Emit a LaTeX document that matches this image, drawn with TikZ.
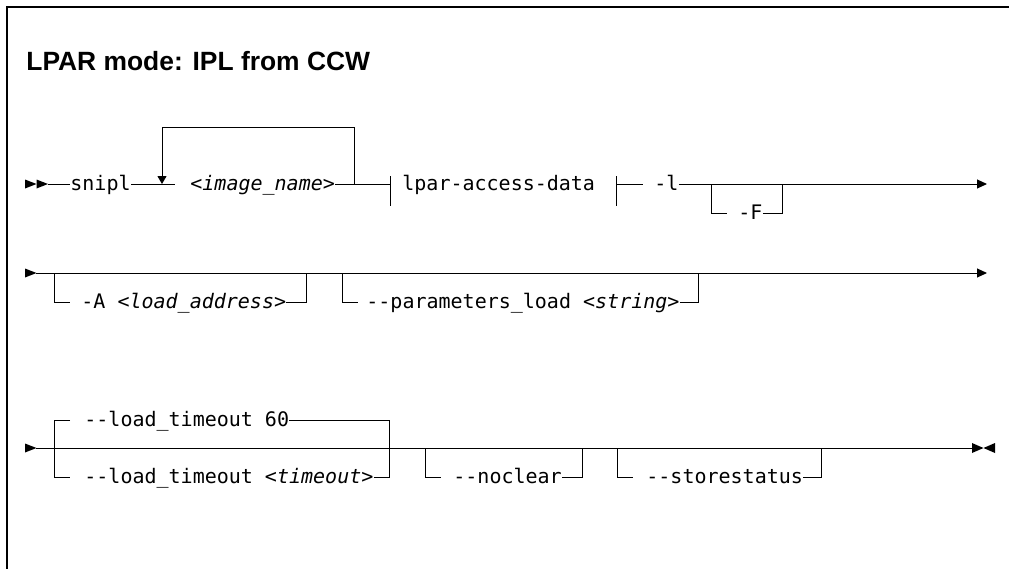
\documentclass[tikz,border=0pt]{standalone}
\usepackage{fontspec}
\setmainfont{Liberation Sans}
\setmonofont{DejaVu Sans Mono}
\usetikzlibrary{calc,arrows.meta}

\tikzset{
  rail/.style={line width=0.5pt},
  frame/.style={line width=0.8pt},
  opt/.style={font=\ttfamily\fontsize{10}{12}\selectfont, inner sep=0pt,
    text height=8pt, text depth=2pt, anchor=west},
  tip/.style={-{Triangle[length=5pt,width=4.5pt]}},
  down/.style={-{Triangle[length=4pt,width=4.5pt]}},
}

\begin{document}
\begin{tikzpicture}[x=0.5pt,y=-0.5pt]
        \pgfmathsetmacro{\ya}{184}
        \pgfmathsetmacro{\yb}{273}
        \pgfmathsetmacro{\yc}{448}
        \pgfmathsetmacro{\dd}{29}
        \pgfmathsetmacro{\hk}{16}
        \useasboundingbox (0,0) rectangle (1009,569);
        \draw[frame] (1009,7) -- (7,7) -- (7,569);
        \node[font=\bfseries\fontsize{13.2}{16}\selectfont, inner sep=0pt, anchor=base west]
          (title) at (26,70) {LPAR mode: IPL from CCW};
        % first row
        \fill (25,\ya-4.5) -- ++(11.5,4.5) -- ++(-11.5,4.5) -- cycle;
        \fill (36.5,\ya-4.5) -- ++(11.5,4.5) -- ++(-11.5,4.5) -- cycle;
        \coordinate (a0) at (48,\ya);
        \coordinate (a1) at (175,\ya);
        \coordinate (lp) at (162,\ya);
        \coordinate (rp) at (354,\ya);
        \coordinate (a2) at (390,\ya);
        \coordinate (a3) at (616,\ya);
        \coordinate (a4) at (643,\ya);
        \coordinate (a5) at (987,\ya);
        \coordinate (f0) at (711,\ya);
        \coordinate (f1) at (782,\ya);
        \node[opt] (snipl) at (70,\ya) {snipl};
        \node[opt] (img) at (190,\ya) {<\textit{image\_name}>};
        \node[opt] (lpar) at (402,\ya) {lpar-access-data};
        \node[opt] (dl) at (654,\ya) {-l};
        \node[opt] (dF) at (738,\ya+\dd) {-F};
        \draw[rail] (a0) -- (snipl.west);
        \draw[rail] (snipl.east) -- (a1);
        \draw[rail] (img.east) -- (a2);
        \draw[rail, down] (rp) -- ++(0,-57) -| (lp);
        \draw[rail] ($ (a2) + (0,-8) $) -- ++(0,30);
        \draw[rail] ($ (a3) + (0,-8) $) -- ++(0,30);
        \draw[rail] (a3) -- (a4);
        \draw[rail, tip] (dl.east) -- (a5);
        \draw[rail] (f0) |- ++(\hk,\dd);
        \draw[rail] (dF.east) -| (f1);
        % second row
        \fill (25,\yb-4.5) -- ++(11.5,4.5) -- ++(-11.5,4.5) -- cycle;
        \coordinate (b0) at (36,\yb);
        \coordinate (b1) at (987,\yb);
        \coordinate (ad0) at (54,\yb);
        \coordinate (ad1) at (306,\yb);
        \coordinate (pl0) at (342,\yb);
        \coordinate (pl1) at (698,\yb);
        \node[opt] (addr) at (81,\yb+\dd) {-A <\textit{load\_address}>};
        \node[opt] (parm) at (366,\yb+\dd) {-{}-parameters\_load <\textit{string}>};
        \draw[rail, tip] (b0) -- (b1);
        \draw[rail] (ad0) |- ++(\hk,\dd);
        \draw[rail] (addr.east) -| (ad1);
        \draw[rail] (pl0) |- ++(\hk,\dd);
        \draw[rail] (parm.east) -| (pl1);
        % third row
        \fill (25,\yc-4.5) -- ++(11.5,4.5) -- ++(-11.5,4.5) -- cycle;
        \coordinate (c0) at (36,\yc);
        \coordinate (c1) at (972,\yc);
        \coordinate (lt0) at (54,\yc);
        \coordinate (lt1) at (389,\yc);
        \coordinate (nc0) at (425,\yc);
        \coordinate (nc1) at (582,\yc);
        \coordinate (st0) at (617,\yc);
        \coordinate (st1) at (821,\yc);
        \node[opt] (ltd) at (84,\yc-\dd+1) {-{}-load\_timeout 60};
        \node[opt] (lto) at (84,\yc+\dd) {-{}-load\_timeout <\textit{timeout}>};
        \node[opt] (ncl) at (453,\yc+\dd) {-{}-noclear};
        \node[opt] (sts) at (646,\yc+\dd) {-{}-storestatus};
        \draw[rail] (c0) -- (c1);
        \draw[rail] ($ (lt0) + (\hk,-\dd+1) $) -- ++(-\hk,0) -- ++(0,2*\dd-1) -- ++(\hk,0);
        \draw[rail] (ltd.east) -| (lto.east -| lt1) -- (lto.east);
        \draw[rail] (nc0) |- ++(\hk,\dd);
        \draw[rail] (ncl.east) -| (nc1);
        \draw[rail] (st0) |- ++(\hk,\dd);
        \draw[rail] (sts.east) -| (st1);
        \draw[line width=0.8pt] (827,\yc+0.5) -- (850,\yc+0.5);
        \fill (c1) ++(0,-5) -- ++(11.5,5) -- ++(-11.5,5) -- cycle;
        \fill (995,\yc-5) -- ++(-11.5,5) -- ++(11.5,5) -- cycle;
\end{tikzpicture}
\end{document}
